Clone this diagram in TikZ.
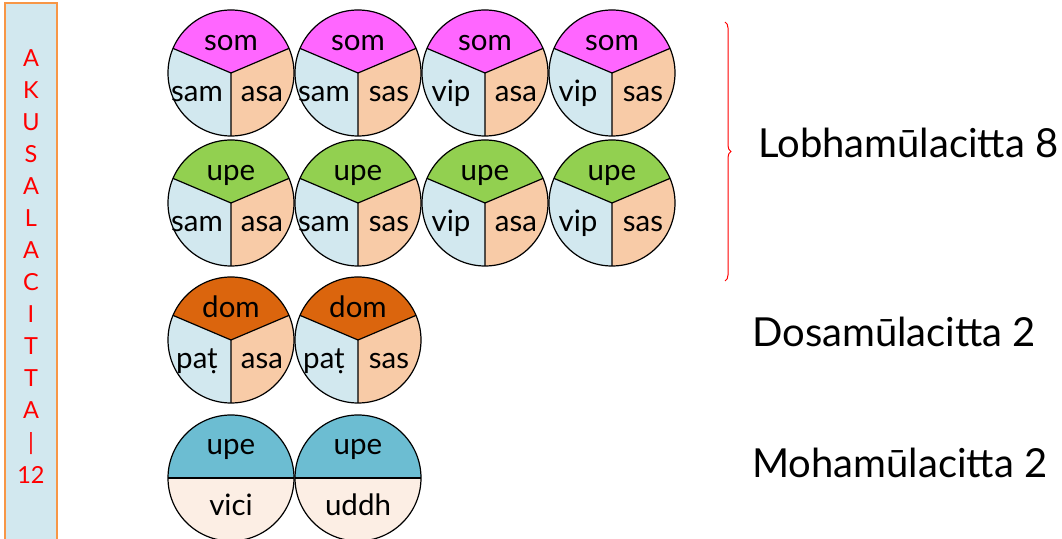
\documentclass[tikz,border=0pt]{standalone}
\usepackage{fontspec}
\setmainfont{Lato}
\usetikzlibrary{calc,decorations.pathreplacing}
\definecolor{lblue}{HTML}{D2E8EF}
\definecolor{peach}{HTML}{F8CBA7}
\definecolor{somc}{HTML}{FF66FF}
\definecolor{upec}{HTML}{92D050}
\definecolor{domc}{HTML}{DB650D}
\definecolor{tealc}{HTML}{6CBDD2}
\definecolor{lpeach}{HTML}{FCEEE4}
\definecolor{boxborder}{HTML}{F79646}
\newcommand\Rad{63pt}
\tikzset{
  ring/.style={draw=black, line width=1.2pt},
  ct/.style={anchor=base, font=\fontsize{29.5}{32}\selectfont, inner sep=0pt},
  big/.style={anchor=base west, font=\fontsize{40}{44}\selectfont, inner sep=0pt},
  side/.style={anchor=base, text=red, font=\fontsize{23.5}{26}\selectfont, inner sep=0pt},
}
% name, x, y, top colour, top text, left text, right text
\newcommand\tric[7]{%
  \coordinate (#1) at (#2,#3);
  \fill[lblue] (#1) -- ++(157:\Rad) arc[start angle=157,end angle=270,radius=\Rad] -- cycle;
  \fill[peach] (#1) -- ++(270:\Rad) arc[start angle=270,end angle=383,radius=\Rad] -- cycle;
  \fill[#4] (#1) -- ++(23:\Rad) arc[start angle=23,end angle=157,radius=\Rad] -- cycle;
  \draw[ring] (#1) -- ++(23:\Rad) (#1) -- ++(157:\Rad) (#1) -- ++(270:\Rad);
  \draw[ring] (#1) circle[radius=\Rad];
  \node[ct] (#1-t) at ($(#1)+(0,22)$) {#5};
  \node[ct] (#1-l) at ($(#1)+(-34,-29)$) {#6};
  \node[ct] (#1-r) at ($(#1)+(31,-29)$) {#7};
}
% name, x, y, top text, bottom text
\newcommand\halfc[5]{%
  \coordinate (#1) at (#2,#3);
  \fill[tealc] (#1) ++(0:\Rad) arc[start angle=0,end angle=180,radius=\Rad] -- cycle;
  \fill[lpeach] (#1) ++(180:\Rad) arc[start angle=180,end angle=360,radius=\Rad] -- cycle;
  \draw[ring, line width=1.6pt] (#1) ++(180:\Rad) -- ++(126pt,0);
  \draw[ring] (#1) circle[radius=\Rad];
  \node[ct] (#1-t) at ($(#1)+(0,23)$) {#4};
  \node[ct] (#1-b) at ($(#1)+(0,-37)$) {#5};
}
\begin{document}
\begin{tikzpicture}[x=1pt,y=1pt]
\useasboundingbox (0,0) rectangle (1062,538);
% left box
\node[draw=boxborder, line width=1.2pt, fill=lblue, minimum width=52pt, minimum height=540pt, inner sep=0pt] (box) at (31,265) {};
\foreach \t [count=\k from 0] in {A,K,U,S,A,L,A,C,I,T,T,A,|,12}
  \node[side] (s\k) at (31,471-32*\k) {\t};
% row 1
\tric{a1}{231}{465}{somc}{som}{sam}{asa}
\tric{a2}{358}{465}{somc}{som}{sam}{sas}
\tric{a3}{485}{465}{somc}{som}{vip}{asa}
\tric{a4}{612}{465}{somc}{som}{vip}{sas}
% row 2
\tric{b1}{231}{335}{upec}{upe}{sam}{asa}
\tric{b2}{358}{335}{upec}{upe}{sam}{sas}
\tric{b3}{485}{335}{upec}{upe}{vip}{asa}
\tric{b4}{612}{335}{upec}{upe}{vip}{sas}
% row 3
\tric{c1}{231}{198}{domc}{dom}{paṭ}{asa}
\tric{c2}{358}{198}{domc}{dom}{paṭ}{sas}
% row 4
\halfc{d1}{231}{60}{upe}{vici}
\halfc{d2}{358}{60}{upe}{uddh}
% brace
\coordinate (brt) at (725,516);
\coordinate (brb) at (725,257);
\draw[red, line width=1pt, decorate, decoration={brace, amplitude=6pt}] (brt) -- (brb);
% labels
\node[big] (lobha) at (758,380) {Lobhamūlacitta 8};
\node[big] (dosa) at (752,191) {Dosamūlacitta 2};
\node[big] (moha) at (752,61) {Mohamūlacitta 2};
\end{tikzpicture}
\end{document}
